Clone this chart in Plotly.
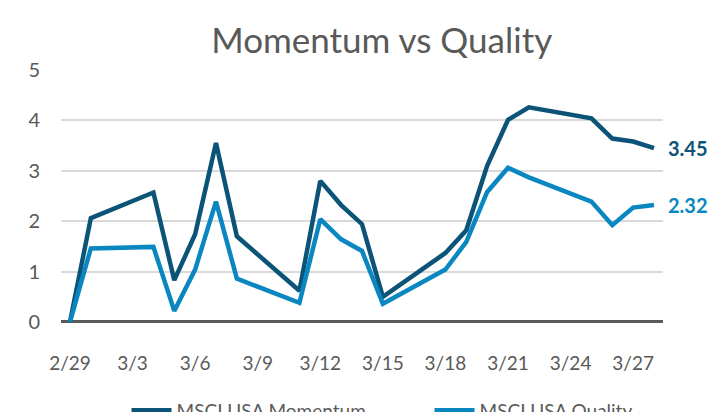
import plotly.graph_objects as go

dates = ["2024-02-29", "2024-03-01", "2024-03-04", "2024-03-05", "2024-03-06", "2024-03-07",
         "2024-03-08", "2024-03-11", "2024-03-12", "2024-03-13", "2024-03-14", "2024-03-15",
         "2024-03-18", "2024-03-19", "2024-03-20", "2024-03-21", "2024-03-22", "2024-03-25",
         "2024-03-26", "2024-03-27", "2024-03-28"]
momentum = [0.0, 2.06, 2.57, 0.83, 1.74, 3.55, 1.70, 0.62, 2.80, 2.32, 1.94, 0.50,
            1.37, 1.82, 3.10, 4.01, 4.26, 4.04, 3.64, 3.58, 3.45]
quality = [0.0, 1.46, 1.49, 0.22, 1.04, 2.39, 0.86, 0.38, 2.04, 1.64, 1.41, 0.36,
           1.04, 1.59, 2.58, 3.06, 2.87, 2.39, 1.92, 2.27, 2.32]
series_names = ["MSCI USA Momentum", "MSCI USA Quality"]
title_text = "Momentum vs Quality"

c_mom = "#0B5377"
c_qual = "#0A87C1"
grey = "#595959"
font = "Lato"

fig = go.Figure()
fig.add_trace(go.Scatter(x=dates, y=momentum, mode="lines", name=series_names[0],
                         line=dict(color=c_mom, width=4.5)))
fig.add_trace(go.Scatter(x=dates, y=quality, mode="lines", name=series_names[1],
                         line=dict(color=c_qual, width=4.5)))

fig.add_annotation(x=dates[-1], y=momentum[-1], text=f"<b>{momentum[-1]:.2f}</b>",
                   showarrow=False, xanchor="left", xshift=12,
                   font=dict(family=font, size=20, color=c_mom))
fig.add_annotation(x=dates[-1], y=quality[-1], text=f"<b>{quality[-1]:.2f}</b>",
                   showarrow=False, xanchor="left", xshift=12,
                   font=dict(family=font, size=20, color=c_qual))

fig.update_layout(
    width=723, height=412,
    margin=dict(l=61, r=60, t=70, b=88, autoexpand=False),
    paper_bgcolor="white", plot_bgcolor="white",
    font=dict(family=font, color=grey),
    title=dict(text=title_text, x=0.528, xanchor="center", y=0.9, yanchor="middle",
               font=dict(family=font, size=35, color=grey)),
    showlegend=True,
    legend=dict(orientation="h", x=0.175, xanchor="left", xref="container",
                y=0.004, yanchor="middle", yref="container",
                font=dict(family=font, size=19, color=grey), itemwidth=40,
                entrywidth=248, entrywidthmode="pixels",
                bgcolor="rgba(0,0,0,0)"),
    xaxis=dict(type="date", range=["2024-02-28 13:40", "2024-03-28 10:20"],
               tick0="2024-02-29", dtick=3 * 86400000, tickformat="%-m/%-d",
               showgrid=False, zeroline=False, showline=False, ticks="",
               tickfont=dict(family=font, size=19, color=grey), ticklabelstandoff=26),
    yaxis=dict(range=[-0.04, 5.0], tickvals=[0, 1, 2, 3, 4, 5], showgrid=True,
               gridcolor="#D9D9D9", gridwidth=1.5, zeroline=True, zerolinecolor=grey,
               zerolinewidth=2.5, showline=False, ticks="",
               tickfont=dict(family=font, size=20, color=grey), ticklabelstandoff=20),
)

fig.write_html("out.html", config={"displayModeBar": False},
               post_script="document.body.style.margin='0';")
